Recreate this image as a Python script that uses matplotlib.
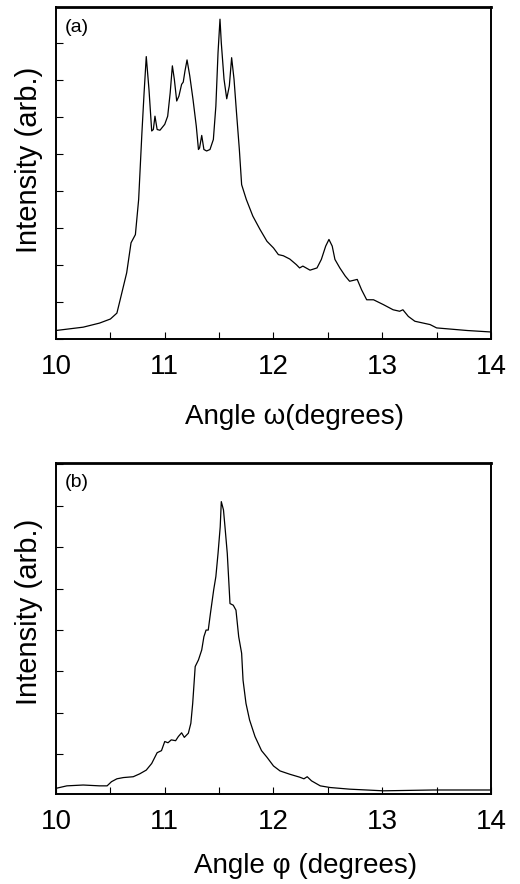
import numpy as np
import matplotlib.pyplot as plt
from matplotlib.ticker import MultipleLocator, NullFormatter

plt.rcParams["font.family"] = ["Liberation Sans", "DejaVu Sans"]

# panel (a): omega scan
omega = [10.0, 10.25, 10.40, 10.50, 10.56, 10.59, 10.65, 10.69, 10.73, 10.76,
         10.79, 10.81, 10.83, 10.855, 10.88, 10.895, 10.91, 10.93, 10.956, 11.0,
         11.027, 11.05, 11.07, 11.088, 11.11, 11.13, 11.155, 11.17, 11.186, 11.205,
         11.23, 11.26, 11.29, 11.31, 11.32, 11.34, 11.36, 11.385, 11.416, 11.447,
         11.47, 11.49, 11.508, 11.52, 11.545, 11.57, 11.594, 11.615, 11.637, 11.66,
         11.686, 11.707, 11.75, 11.81, 11.876, 11.94, 12.0, 12.045, 12.09, 12.15,
         12.21, 12.24, 12.27, 12.336, 12.40, 12.44, 12.48, 12.51, 12.54, 12.565,
         12.61, 12.66, 12.70, 12.77, 12.81, 12.857, 12.92, 13.01, 13.10, 13.16,
         13.19, 13.24, 13.30, 13.44, 13.50, 13.78, 14.0]
int_a = [0.23, 0.32, 0.43, 0.54, 0.70, 1.06, 1.79, 2.60, 2.82, 3.77,
         5.57, 6.65, 7.63, 6.74, 5.62, 5.66, 6.02, 5.66, 5.64, 5.80,
         6.02, 6.65, 7.38, 7.02, 6.43, 6.56, 6.88, 6.94, 7.24, 7.54,
         7.11, 6.47, 5.75, 5.12, 5.16, 5.50, 5.12, 5.08, 5.12, 5.39,
         6.29, 7.74, 8.64, 8.0, 7.02, 6.49, 6.84, 7.60, 7.02, 6.11,
         5.12, 4.17, 3.77, 3.32, 2.96, 2.64, 2.46, 2.28, 2.25, 2.16,
         2.01, 1.92, 1.97, 1.86, 1.92, 2.15, 2.51, 2.69, 2.51, 2.15,
         1.92, 1.70, 1.56, 1.61, 1.33, 1.06, 1.06, 0.93, 0.79, 0.75,
         0.79, 0.61, 0.48, 0.39, 0.30, 0.23, 0.19]

# panel (b): phi scan
phi = [10.0, 10.1, 10.25, 10.40, 10.47, 10.51, 10.56, 10.62, 10.71, 10.77,
       10.83, 10.88, 10.93, 10.97, 11.0, 11.03, 11.06, 11.10, 11.125, 11.155,
       11.18, 11.217, 11.24, 11.257, 11.28, 11.31, 11.34, 11.36, 11.38, 11.40,
       11.42, 11.45, 11.47, 11.49, 11.51, 11.52, 11.54, 11.554, 11.575, 11.60,
       11.63, 11.655, 11.68, 11.707, 11.72, 11.747, 11.78, 11.83, 11.89, 11.94,
       12.0, 12.06, 12.15, 12.24, 12.28, 12.31, 12.35, 12.43, 12.52, 12.70,
       13.01, 13.47, 14.0]
int_b = [0.18, 0.24, 0.26, 0.24, 0.24, 0.34, 0.41, 0.44, 0.46, 0.53,
         0.62, 0.78, 1.04, 1.09, 1.31, 1.28, 1.35, 1.33, 1.43, 1.52,
         1.41, 1.51, 1.75, 2.23, 3.12, 3.28, 3.52, 3.84, 4.0, 4.0,
         4.4, 4.97, 5.29, 5.85, 6.49, 7.10, 6.90, 6.49, 5.85, 4.64,
         4.60, 4.48, 3.84, 3.44, 2.79, 2.23, 1.83, 1.43, 1.09, 0.93,
         0.72, 0.60, 0.52, 0.45, 0.41, 0.46, 0.36, 0.24, 0.20, 0.16,
         0.12, 0.14, 0.14]

xticks = [10, 11, 12, 13, 14]

fig = plt.figure(figsize=(5.2, 8.84), dpi=100)
ax_a = fig.add_axes([0.1077, 0.6165, 0.8365, 0.3756])
ax_b = fig.add_axes([0.1077, 0.1018, 0.8365, 0.3748])

# axes, data, ylim, tag, xlabel, xlabel x/y (figure coords), ylabel y
panels = [
    (ax_a, omega, int_a, (0.0, 8.97), "(a)", "Angle \u03c9(degrees)", 0.566, 0.528, 0.819),
    (ax_b, phi, int_b, (0.043, 8.04), "(b)", "Angle \u03c6 (degrees)", 0.588, 0.020, 0.308),
]

for ax, x, y, ylim, tag, xlabel, xl_x, xl_y, yl_y in panels:
    ax.plot(x, y, color="black", lw=0.9)
    ax.set_xlim(10, 14)
    ax.set_ylim(*ylim)
    ax.set_xticks(xticks)
    ax.xaxis.set_minor_locator(MultipleLocator(0.5))
    ax.yaxis.set_major_locator(MultipleLocator(1))
    ax.yaxis.set_major_formatter(NullFormatter())
    ax.tick_params(axis="x", which="both", direction="in", length=5, width=0.8,
                   labelsize=20, pad=11)
    ax.tick_params(axis="y", direction="in", length=5, width=0.8)
    for s in ax.spines.values():
        s.set_linewidth(1.4)
    ax.spines["top"].set_linewidth(2.0)
    ax.text(0.02, 0.965, tag, transform=ax.transAxes, fontsize=14,
            ha="left", va="top")
    fig.text(xl_x, xl_y, xlabel, fontsize=20, ha="center", va="center")
    fig.text(0.055, yl_y, "Intensity (arb.)", fontsize=21, rotation=90,
             ha="center", va="center")

fig.savefig("out.png", dpi=100)
